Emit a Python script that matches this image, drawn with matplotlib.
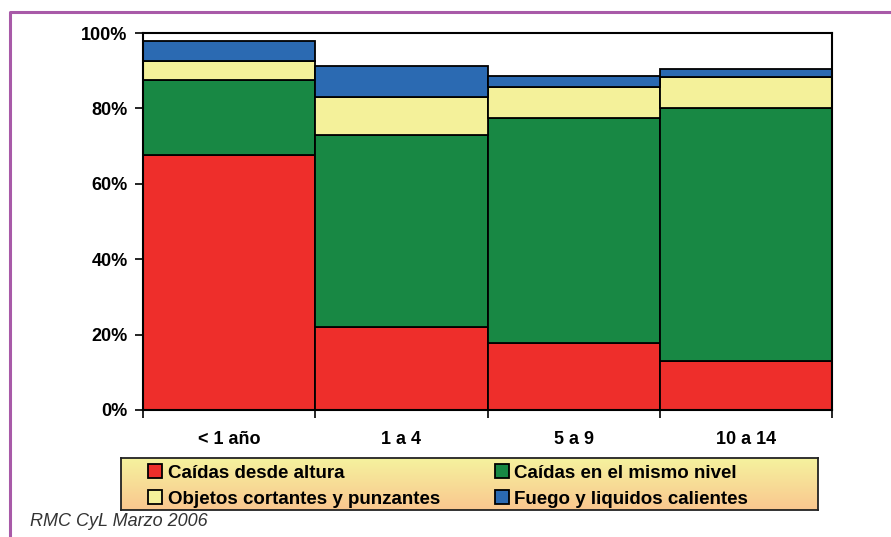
import numpy as np
import matplotlib.pyplot as plt
from matplotlib.lines import Line2D

plt.rcParams['font.family'] = ['Liberation Sans', 'DejaVu Sans']

grupos = ['< 1 año', '1 a 4', '5 a 9', '10 a 14']
series = ['Caídas desde altura', 'Caídas en el mismo nivel',
          'Objetos cortantes y punzantes', 'Fuego y liquidos calientes']
caidas_altura = [67.6, 22.0, 17.8, 13.0]
caidas_nivel = [19.9, 50.9, 59.6, 67.2]
objetos_cortantes = [5.1, 10.1, 8.4, 8.2]
fuego_liquidos = [5.3, 8.2, 2.7, 2.1]
colores = ['#ee2e2b', '#188844', '#f4f19a', '#2b6ab2']

W, H = 891, 537
fig = plt.figure(figsize=(W / 100, H / 100), dpi=100)

# marco morado del recuadro
fig.add_artist(Line2D([10 / W, 10 / W, 1.0], [0.0, 1 - 12 / H, 1 - 12 / H],
                      transform=fig.transFigure, color='#a85aa8', lw=2.2))

ax = fig.add_axes([143 / W, 1 - 410 / H, (832 - 143) / W, (410 - 33) / H])

x = np.arange(len(grupos))
base = np.zeros(len(grupos))
barras = []
for valores, color, nombre in zip(
        [caidas_altura, caidas_nivel, objetos_cortantes, fuego_liquidos],
        colores, series):
    b = ax.bar(x, valores, width=1.0, bottom=base, color=color,
               edgecolor='black', linewidth=1.3, label=nombre)
    barras.append(b)
    base += np.array(valores)

ax.set_xlim(-0.5, len(grupos) - 0.5)
ax.set_ylim(0, 100)
ax.set_yticks(range(0, 101, 20))
ax.set_yticklabels([f'{v}%' for v in range(0, 101, 20)],
                   fontsize=13, fontweight='bold')
ax.set_xticks(x)
ax.set_xticklabels(grupos, fontsize=13, fontweight='bold')
ax.set_xticks(np.arange(-0.5, len(grupos)), minor=True)
ax.tick_params(axis='x', which='major', length=0, pad=15)
ax.tick_params(axis='x', which='minor', length=6, width=1.2, direction='out')
ax.tick_params(axis='y', length=6, width=1.2, pad=5)
for s in ax.spines.values():
    s.set_linewidth(1.5)

# caja de leyenda con degradado amarillo -> anaranjado
lax = fig.add_axes([121 / W, 1 - 510 / H, (818 - 121) / W, (510 - 458) / H])
grad = np.linspace(0, 1, 100)[:, None]
top = np.array([0.96, 0.95, 0.62])
bottom = np.array([0.98, 0.78, 0.56])
img = top[None, None, :] * (1 - grad[..., None]) + bottom[None, None, :] * grad[..., None]
lax.imshow(img, aspect='auto', extent=[0, 1, 0, 1])
lax.set_xticks([])
lax.set_yticks([])
for s in lax.spines.values():
    s.set_linewidth(1.3)
    s.set_color('#222222')

handles = [barras[0], barras[2], barras[1], barras[3]]
labels = [series[0], series[2], series[1], series[3]]
leg = fig.legend(handles, labels, ncol=2, loc='center left',
                 bbox_to_anchor=(139 / W, 1 - 486 / H), frameon=False,
                 prop={'size': 13.5, 'weight': 'bold'},
                 handlelength=0.75, handleheight=0.75, handletextpad=0.3,
                 columnspacing=2.9, labelspacing=0.45, borderpad=0)

fig.text(30 / W, 1 - 522 / H, 'RMC CyL Marzo 2006', fontsize=13,
         style='italic', color='#333333', va='center', ha='left')

fig.savefig('out.png', dpi=100)
